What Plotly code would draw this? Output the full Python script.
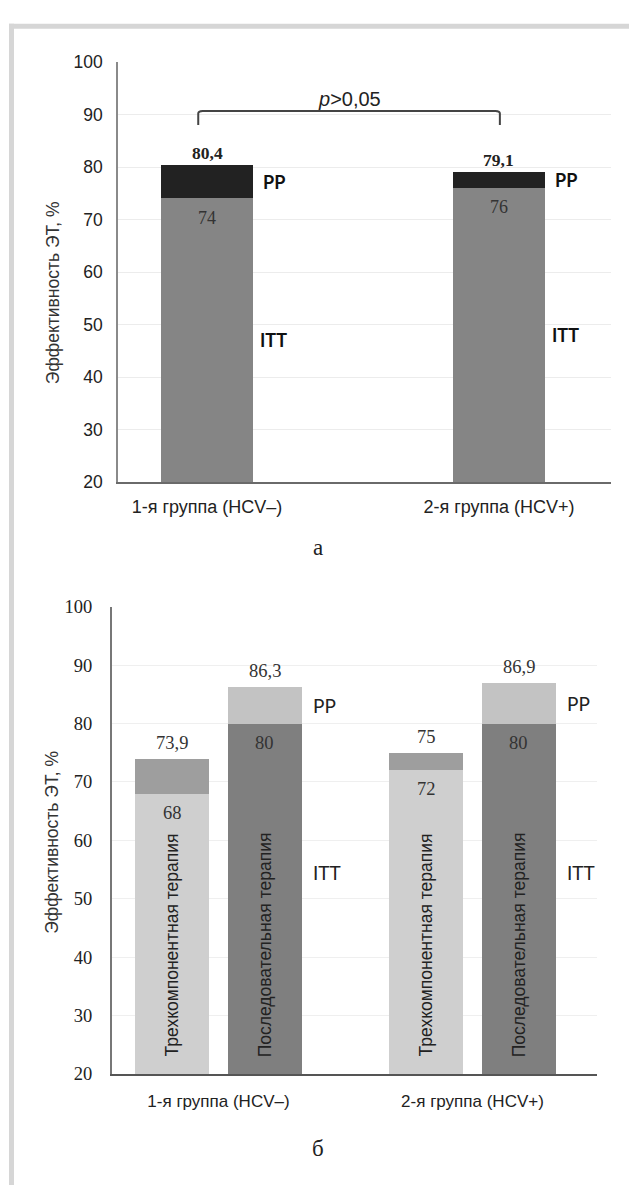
import plotly.graph_objects as go

W, H = 629, 1195

# ---------------- data ----------------
groups = ["1-я группа (HCV–)", "2-я группа (HCV+)"]
y_ticks = [20, 30, 40, 50, 60, 70, 80, 90, 100]
y_title = "Эффективность ЭТ, %"

# panel а
itt_a = [74, 76]
pp_a = [80.4, 79.1]
p_text = "<i>p</i>&gt;0,05"

# panel б
therapies = ["Трехкомпонентная терапия", "Последовательная терапия"]
itt_tri = [68, 72]
pp_tri = [73.9, 75]
itt_seq = [80, 80]
pp_seq = [86.3, 86.9]

panel_labels = ["а", "б"]
seg_labels = ["ITT", "PP"]


def fmt(v):
    return f"{v:g}".replace(".", ",")


def px(x):
    return x / W


def py(y):
    return 1 - y / H


SANS = "Liberation Sans, Arial, sans-serif"
SERIF = "Liberation Serif, Times New Roman, serif"
CAL = "Lato, Carlito, sans-serif"
YMIN = y_ticks[0]

fig = go.Figure()

# ---------- panel а ----------
xa = list(range(len(groups)))
wa = 0.315
fig.add_trace(go.Bar(x=xa, y=itt_a, width=wa, marker=dict(color="#858585", line=dict(width=0)),
                     xaxis="x", yaxis="y", name="ITT", hoverinfo="skip"))
fig.add_trace(go.Bar(x=xa, y=[p - i for p, i in zip(pp_a, itt_a)], width=wa,
                     marker=dict(color="#222222", line=dict(width=0)),
                     xaxis="x", yaxis="y", name="PP", hoverinfo="skip"))

# ---------- panel б ----------
off_b = 0.183
wb = 0.291
x_tri = [g - off_b for g in range(len(groups))]
x_seq = [g + off_b for g in range(len(groups))]
fig.add_trace(go.Bar(x=x_tri, y=itt_tri, width=wb, marker=dict(color="#cfcfcf", line=dict(width=0)),
                     xaxis="x2", yaxis="y2", hoverinfo="skip"))
fig.add_trace(go.Bar(x=x_tri, y=[p - i for p, i in zip(pp_tri, itt_tri)], width=wb,
                     marker=dict(color="#9e9e9e", line=dict(width=0)),
                     xaxis="x2", yaxis="y2", hoverinfo="skip"))
fig.add_trace(go.Bar(x=x_seq, y=itt_seq, width=wb, marker=dict(color="#7f7f7f", line=dict(width=0)),
                     xaxis="x2", yaxis="y2", hoverinfo="skip"))
fig.add_trace(go.Bar(x=x_seq, y=[p - i for p, i in zip(pp_seq, itt_seq)], width=wb,
                     marker=dict(color="#c3c3c3", line=dict(width=0)),
                     xaxis="x2", yaxis="y2", hoverinfo="skip"))

ann = []
# panel а value labels
for x, i, p in zip(xa, itt_a, pp_a):
    ann.append(dict(x=x, y=p, xref="x", yref="y", text=f"<b>{fmt(p)}</b>", showarrow=False,
                    xanchor="center", yanchor="middle", yshift=12,
                    font=dict(family=SERIF, size=17.5, color="#222")))
    ann.append(dict(x=x, y=i, xref="x", yref="y", text=fmt(i), showarrow=False,
                    xanchor="center", yanchor="middle", yshift=-19,
                    font=dict(family=SERIF, size=18, color="#333")))
    ann.append(dict(x=x + wa / 2, y=(i + p) / 2, xref="x", yref="y", text=f"<b>{seg_labels[1]}</b>",
                    showarrow=False, xanchor="left", xshift=8, yanchor="middle",
                    font=dict(family=CAL, size=18, color="#111")))
    ann.append(dict(x=x + wa / 2, y=(YMIN + i) / 2, xref="x", yref="y", text=f"<b>{seg_labels[0]}</b>",
                    showarrow=False, xanchor="left", xshift=5, yanchor="middle",
                    font=dict(family=CAL, size=18, color="#111")))

# p-value bracket
bx0, bx1 = xa[0] - 0.03, xa[1] + 0.003
by_top, by_low = 90.7, 88.0
path = (f"M {bx0},{by_low} L {bx0},{by_top - 0.5} Q {bx0},{by_top} {bx0 + 0.015},{by_top} "
        f"L {bx1 - 0.015},{by_top} Q {bx1},{by_top} {bx1},{by_top - 0.5} L {bx1},{by_low}")
shapes = [dict(type="path", xref="x", yref="y", path=path, line=dict(color="#444", width=2))]
ann.append(dict(x=(bx0 + bx1) / 2, y=by_top, xref="x", yref="y", text=p_text, showarrow=False,
                xanchor="center", yanchor="bottom", yshift=-1,
                font=dict(family=SANS, size=20, color="#222")))

# panel б value labels
for xs, its, pps in ((x_tri, itt_tri, pp_tri), (x_seq, itt_seq, pp_seq)):
    for x, i, p in zip(xs, its, pps):
        ann.append(dict(x=x, y=p, xref="x2", yref="y2", text=fmt(p), showarrow=False,
                        xanchor="center", yanchor="middle", yshift=16,
                        font=dict(family=SERIF, size=18.5, color="#333")))
        ann.append(dict(x=x, y=i, xref="x2", yref="y2", text=fmt(i), showarrow=False,
                        xanchor="center", yanchor="middle", yshift=-19,
                        font=dict(family=SERIF, size=18.5, color="#333")))
for name, xs in zip(therapies, (x_tri, x_seq)):
    for x in xs:
        ann.append(dict(x=x, y=YMIN, xref="x2", yref="y2", text=name, showarrow=False, textangle=-90,
                        xanchor="center", yanchor="bottom", yshift=15,
                        font=dict(family=SANS, size=17.5, color="#222")))
for x, i, p in zip(x_seq, itt_seq, pp_seq):
    ann.append(dict(x=x + wb / 2, y=(i + p) / 2, xref="x2", yref="y2", text=seg_labels[1],
                    showarrow=False, xanchor="left", xshift=9, yanchor="middle",
                    font=dict(family=CAL, size=19, color="#222")))
    ann.append(dict(x=x + wb / 2, y=54.5, xref="x2", yref="y2", text=seg_labels[0],
                    showarrow=False, xanchor="left", xshift=9, yanchor="middle",
                    font=dict(family=CAL, size=19, color="#222")))

# y titles and panel captions
ann.append(dict(x=px(53), y=py(288), xref="paper", yref="paper", text=y_title, textangle=-90,
                xanchor="center", yanchor="middle", showarrow=False,
                font=dict(family=SANS, size=17.5, color="#333")))
ann.append(dict(x=px(52), y=py(846), xref="paper", yref="paper", text=y_title, textangle=-90,
                xanchor="center", yanchor="middle", showarrow=False,
                font=dict(family=SANS, size=17.5, color="#333")))
ann.append(dict(x=px(318), y=py(547), xref="paper", yref="paper", text=panel_labels[0],
                xanchor="center", yanchor="middle", showarrow=False,
                font=dict(family=SERIF, size=23, color="#222")))
ann.append(dict(x=px(318), y=py(1158), xref="paper", yref="paper", text=panel_labels[1],
                xanchor="center", yanchor="middle", showarrow=False,
                font=dict(family=SERIF, size=23, color="#222")))

# frame
shapes.append(dict(type="rect", xref="paper", yref="paper", x0=px(9), x1=1.0, y0=py(19), y1=py(14),
                   fillcolor="#d6d6d6", line=dict(width=0), layer="below"))
shapes.append(dict(type="rect", xref="paper", yref="paper", x0=px(9), x1=px(14), y0=0, y1=py(14),
                   fillcolor="#d6d6d6", line=dict(width=0), layer="below"))

fig.update_layout(
    width=W, height=H, margin=dict(l=0, r=0, t=0, b=0),
    paper_bgcolor="white", plot_bgcolor="white",
    barmode="stack", showlegend=False, bargap=0,
    annotations=ann, shapes=shapes,
    xaxis=dict(domain=[px(118), px(611)], range=[-0.3048, 1.3836], tickvals=xa, ticktext=groups,
               showgrid=False, zeroline=False, showline=True, linecolor="#6a6a6a", linewidth=2,
               ticks="outside", ticklen=7, tickcolor="rgba(0,0,0,0)",
               tickfont=dict(family=SANS, size=18, color="#222"), anchor="y", fixedrange=True),
    yaxis=dict(domain=[py(480), py(53)], range=[20, 100], tickvals=y_ticks,
               showgrid=True, gridcolor="#ececec", gridwidth=1, zeroline=False,
               showline=True, linecolor="#8a8a8a", linewidth=1.5,
               ticks="outside", ticklen=10, tickcolor="rgba(0,0,0,0)",
               tickfont=dict(family=SANS, size=17.5, color="#222"), anchor="x", fixedrange=True),
    xaxis2=dict(domain=[px(112), px(597)], range=[-0.4193, 1.4902], tickvals=list(range(len(groups))),
                ticktext=groups, showgrid=False, zeroline=False, showline=True, linecolor="#555",
                linewidth=2, ticks="outside", ticklen=11, tickcolor="rgba(0,0,0,0)",
                tickfont=dict(family=SANS, size=17, color="#222"), anchor="y2", fixedrange=True),
    yaxis2=dict(domain=[py(1082), py(607)], range=[20, 100], tickvals=y_ticks,
                showgrid=True, gridcolor="#efefef", gridwidth=1, zeroline=False,
                showline=True, linecolor="#777", linewidth=2,
                ticks="outside", ticklen=14, tickcolor="rgba(0,0,0,0)",
                tickfont=dict(family=SERIF, size=18.5, color="#222"), anchor="x2", fixedrange=True),
)

fig.write_html("out.html", config={"displayModeBar": False},
               post_script="document.body.style.margin='0';")
